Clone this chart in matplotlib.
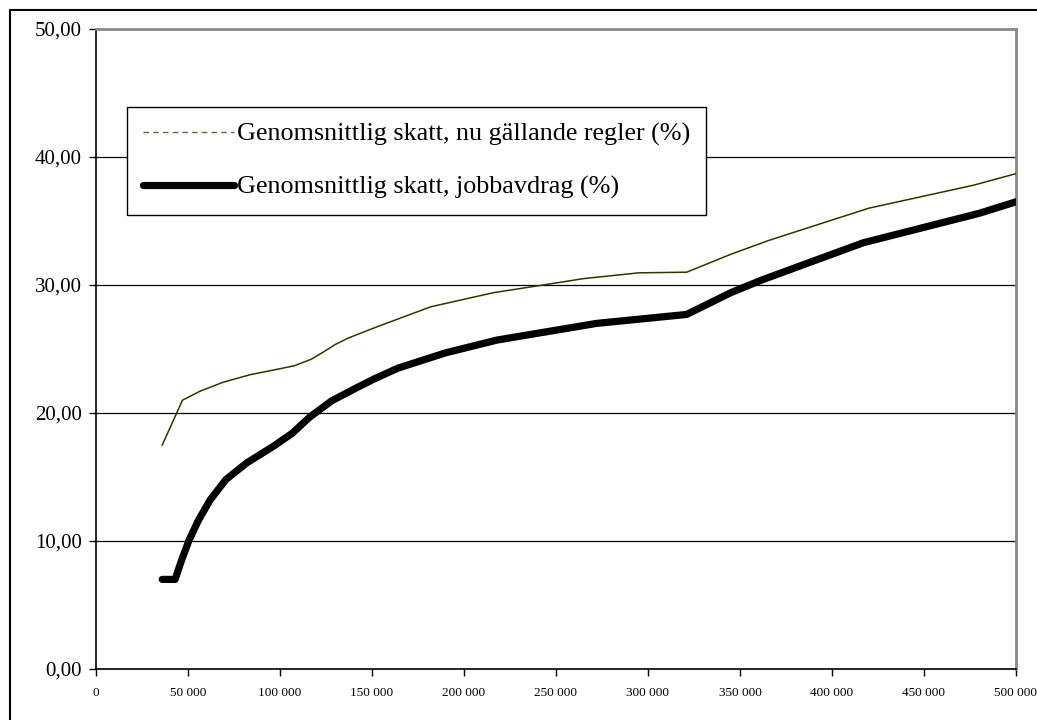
import matplotlib.pyplot as plt
from matplotlib.lines import Line2D
from matplotlib.patches import Rectangle
from matplotlib.ticker import FuncFormatter

plt.rcParams['font.family'] = ['Liberation Serif', 'DejaVu Serif']

# inkomst (kr) och genomsnittlig skatt (%)
x_nu = [36000, 47000, 56500, 69000, 84000, 98000, 108000, 117000, 124000, 130000,
        137000, 153000, 182000, 216000, 243000, 265000, 295000, 321000, 345000,
        366000, 420000, 477000, 500000]
skatt_nu = [17.5, 21.0, 21.7, 22.4, 23.0, 23.4, 23.7, 24.2, 24.8, 25.35,
            25.85, 26.75, 28.3, 29.4, 30.0, 30.5, 30.95, 31.0, 32.4,
            33.5, 36.0, 37.8, 38.7]

x_jobb = [36000, 43000, 46500, 50700, 55600, 62000, 70600, 81900, 96400, 106500,
          116300, 128100, 140000, 151000, 164000, 190000, 218000, 272000, 321000,
          345000, 362000, 417000, 480000, 500000]
skatt_jobb = [7.0, 7.0, 8.5, 10.1, 11.6, 13.2, 14.8, 16.1, 17.4, 18.4,
              19.7, 20.95, 21.85, 22.65, 23.5, 24.7, 25.7, 27.0, 27.7,
              29.4, 30.4, 33.3, 35.6, 36.5]

labels = ['Genomsnittlig skatt, nu gällande regler (%)',
          'Genomsnittlig skatt, jobbavdrag (%)']

fig = plt.figure(figsize=(10.37, 7.2), dpi=100)
ax = fig.add_axes([96 / 1037, 51 / 720, 920 / 1037, 640 / 720])

# yttre ram
fig.patches.append(Rectangle((10 / 1037, -0.1), 1.2, 710 / 720 + 0.1,
                             transform=fig.transFigure, fill=False,
                             edgecolor='black', linewidth=1.5, zorder=0))

olive = '#333300'
ax.plot(x_nu, skatt_nu, color=olive, linewidth=1.1, zorder=3)
ax.plot(x_jobb, skatt_jobb, color='black', linewidth=5.2, zorder=3,
        solid_capstyle='round', solid_joinstyle='round')

ax.set_xlim(0, 500000)
ax.set_ylim(0, 50)
ax.set_xticks(range(0, 500001, 50000))
ax.set_yticks(range(0, 51, 10))
ax.xaxis.set_major_formatter(FuncFormatter(lambda v, p: f'{int(v):,}'.replace(',', ' ')))
ax.yaxis.set_major_formatter(FuncFormatter(lambda v, p: f'{v:.2f}'.replace('.', ',')))
ax.tick_params(axis='y', labelsize=15, direction='out', length=5, width=1, pad=5)
ax.tick_params(axis='x', labelsize=9.5, direction='out', length=5, width=1, pad=8)

for y in [10, 20, 30, 40]:
    ax.axhline(y, color='black', linewidth=0.9, zorder=1)

ax.spines['top'].set_color('#888888')
ax.spines['top'].set_linewidth(2)
ax.spines['right'].set_color('#888888')
ax.spines['right'].set_linewidth(2)
ax.spines['left'].set_linewidth(1.2)
ax.spines['bottom'].set_linewidth(1.2)

handles = [Line2D([], [], color='#666644', linewidth=1, linestyle=(0, (4, 3))),
           Line2D([], [], color='black', linewidth=5.2, solid_capstyle='round')]
leg = ax.legend(handles, labels, loc='upper left',
                bbox_to_anchor=(127 / 1037, (720 - 107) / 720),
                bbox_transform=fig.transFigure, fontsize=18.8, frameon=True,
                fancybox=False, edgecolor='black', framealpha=1,
                handlelength=3.5, handletextpad=0.1, borderpad=0.6,
                labelspacing=1.12, borderaxespad=0)
leg.get_frame().set_linewidth(1)
leg.set_zorder(5)

fig.savefig('out.png', dpi=100)
